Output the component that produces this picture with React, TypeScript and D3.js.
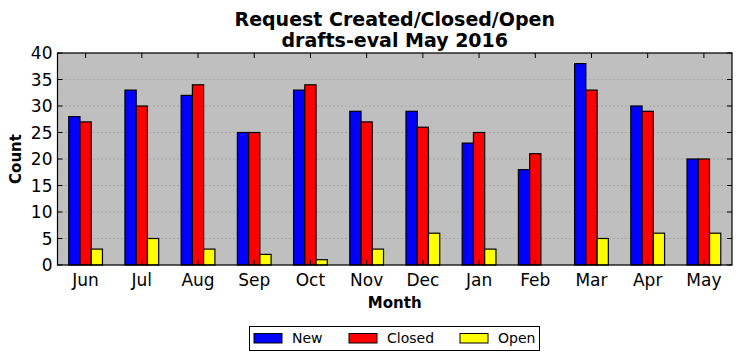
import React from "react";
import * as d3 from "d3";

const months = ["Jun", "Jul", "Aug", "Sep", "Oct", "Nov", "Dec", "Jan", "Feb", "Mar", "Apr", "May"];
const newVals = [28, 33, 32, 25, 33, 29, 29, 23, 18, 38, 30, 20];
const closedVals = [27, 30, 34, 25, 34, 27, 26, 25, 21, 33, 29, 20];
const openVals = [3, 5, 3, 2, 1, 3, 6, 3, 0, 5, 6, 6];
const seriesNames = ["New", "Closed", "Open"];
const seriesColors = ["#0000ff", "#ff0000", "#ffff00"];
const yTicks = [0, 5, 10, 15, 20, 25, 30, 35, 40];

export default function App() {
  const W = 741, H = 361;
  const L = 57.5, R = 732, T = 53, B = 265;
  const x = d3.scaleLinear().domain([-0.5, 11.5]).range([L, R]);
  const y = d3.scaleLinear().domain([0, 40]).range([B, T]);
  const series = [newVals, closedVals, openVals];
  const bw = 0.2;
  const font = "DejaVu Sans, sans-serif";
  return (
    <svg width={W} height={H} style={{ position: "absolute", left: 0, top: 0 }} fontFamily={font}>
      <rect x={0} y={0} width={W} height={H} fill="#fff" />
      <rect x={L} y={T} width={R - L} height={B - T} fill="#bfbfbf" />
      {yTicks.map((t) => (
        <line key={"g" + t} x1={L} x2={R} y1={y(t)} y2={y(t)} stroke="#808080" strokeWidth={0.8} strokeDasharray="1,3" />
      ))}
      {series.map((vals, si) =>
        vals.map((v, i) => {
          const x0 = x(i - 0.3 + si * bw);
          const x1 = x(i - 0.3 + (si + 1) * bw);
          return (
            <rect key={si + "-" + i} x={x0} y={y(v)} width={x1 - x0} height={y(0) - y(v)}
              fill={seriesColors[si]} stroke="#000" strokeWidth={1.2} />
          );
        })
      )}
      {yTicks.map((t) => (
        <g key={"t" + t}>
          <line x1={L} x2={L + 5} y1={y(t)} y2={y(t)} stroke="#000" />
          <line x1={R - 5} x2={R} y1={y(t)} y2={y(t)} stroke="#000" />
          <text x={L - 5} y={y(t)} dy="0.36em" textAnchor="end" fontSize={17}>{t}</text>
        </g>
      ))}
      {months.map((m, i) => (
        <g key={m}>
          <line x1={x(i)} x2={x(i)} y1={T} y2={T + 5} stroke="#000" />
          <line x1={x(i)} x2={x(i)} y1={B} y2={B - 5} stroke="#000" />
          <text x={x(i)} y={B + 21} textAnchor="middle" fontSize={17}>{m}</text>
        </g>
      ))}
      <rect x={L} y={T} width={R - L} height={B - T} fill="none" stroke="#000" strokeWidth={1.2} />
      <text x={(L + R) / 2} y={26} textAnchor="middle" fontSize={19} fontWeight="bold">Request Created/Closed/Open</text>
      <text x={(L + R) / 2} y={47} textAnchor="middle" fontSize={19} fontWeight="bold">drafts-eval May 2016</text>
      <text x={(L + R) / 2} y={308} textAnchor="middle" fontSize={15} fontWeight="bold">Month</text>
      <text transform={`translate(21,${(T + B) / 2}) rotate(-90)`} textAnchor="middle" fontSize={15} fontWeight="bold">Count</text>
      <rect x={249.5} y={326.5} width={290} height={24} fill="#fff" stroke="#000" />
      {seriesNames.map((n, i) => {
        const sx = [254, 349, 460][i];
        return (
          <g key={n}>
            <rect x={sx} y={333.5} width={28} height={9.5} fill={seriesColors[i]} stroke="#000" />
            <text x={sx + 38} y={343} fontSize={14}>{n}</text>
          </g>
        );
      })}
    </svg>
  );
}
